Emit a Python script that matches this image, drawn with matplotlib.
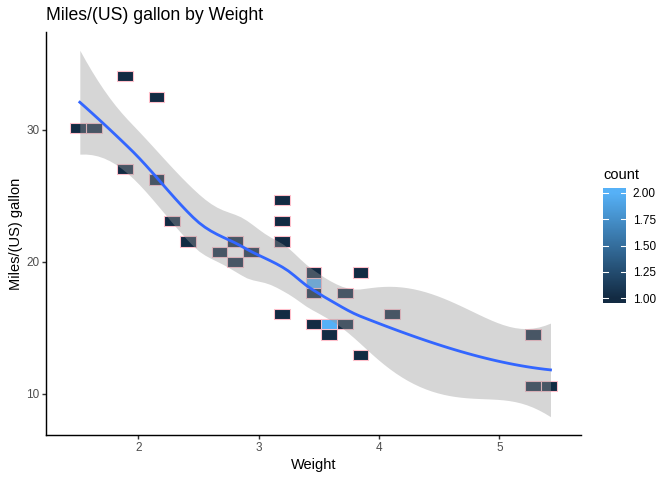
import math
import numpy as np
import matplotlib
matplotlib.use("Agg")
import matplotlib.pyplot as plt
from matplotlib.patches import Rectangle
from matplotlib.colors import LinearSegmentedColormap, Normalize

plt.rcParams['font.family'] = ['Liberation Sans', 'DejaVu Sans']

# mtcars: weight (1000 lbs) and miles per US gallon
wt = [2.620, 2.875, 2.320, 3.215, 3.440, 3.460, 3.570, 3.190, 3.150, 3.440,
      3.440, 4.070, 3.730, 3.780, 5.250, 5.424, 5.345, 2.200, 1.615, 1.835,
      2.465, 3.520, 3.435, 3.840, 3.845, 1.935, 2.140, 1.513, 3.170, 2.770,
      3.570, 2.780]
mpg = [21.0, 21.0, 22.8, 21.4, 18.7, 18.1, 14.3, 24.4, 22.8, 19.2,
       17.8, 16.4, 17.3, 15.2, 10.4, 10.4, 14.7, 32.4, 30.4, 33.9,
       21.5, 15.5, 15.2, 13.3, 19.2, 27.3, 26.0, 30.4, 15.8, 19.7,
       15.0, 21.4]
title = "Miles/(US) gallon by Weight"
xlabel = "Weight"
ylabel = "Miles/(US) gallon"
x_ticks = [2, 3, 4, 5]
y_ticks = [10, 20, 30]
legend_ticks = [1.00, 1.25, 1.50, 1.75, 2.00]
n_bins = 30
span = 0.75

x = np.array(wt, float)
y = np.array(mpg, float)


# ---- ggplot2-like bin2d breaks ----
def bin_breaks(v, bins):
    lo, hi = v.min(), v.max()
    bw = (hi - lo) / bins
    origin = math.floor(lo / bw) * bw
    br = np.arange(origin, hi + bw + bw * 1e-9, bw)
    if len(br) > 1 and br[-2] >= hi:
        br = br[:-1]
    return br, bw


xb, xw = bin_breaks(x, n_bins)
yb, yw = bin_breaks(y, n_bins)
xi = np.clip(np.digitize(x, xb, right=True) - 1, 0, len(xb) - 2)
yi = np.clip(np.digitize(y, yb, right=True) - 1, 0, len(yb) - 2)
counts = {}
for a, b in zip(xi, yi):
    counts[(a, b)] = counts.get((a, b), 0) + 1


# ---- loess (degree 2, tricube), kd-tree vertices + cubic Hermite ----
def local_rows(xd, x0, f):
    n = len(xd)
    q = int(math.floor(n * f))
    d = np.abs(xd - x0)
    h = np.sort(d)[q - 1]
    u = d / h
    w = np.where(u < 1, (1 - u ** 3) ** 3, 0.0)
    X = np.column_stack([np.ones(n), xd - x0, (xd - x0) ** 2])
    XtW = X.T * w
    sol = np.linalg.solve(XtW @ X, XtW)
    return sol[0], sol[1]


def kd_vertices(xd, f, cell=0.2):
    xs_sorted = np.sort(xd)
    n = len(xs_sorted)
    fc = int(math.floor(n * f * cell))
    lo, hi = xs_sorted[0], xs_sorted[-1]
    mu = 0.005 * (hi - lo)
    verts = [lo - mu, hi + mu]

    def split(l, u, vlo, vhi):
        if u - l + 1 <= fc:
            return
        m = (l + u) // 2
        # avoid ties between m and m+1
        off = 0
        while l <= m + off < u and xs_sorted[m + off] == xs_sorted[m + off + 1]:
            off = -off
            if off >= 0:
                off += 1
        if not (l <= m + off < u):
            return
        m = m + off
        t = xs_sorted[m]
        if t == vlo or t == vhi:
            return
        verts.append(t)
        split(l, m, vlo, t)
        split(m + 1, u, t, vhi)

    split(0, n - 1, verts[0], verts[1])
    return np.array(sorted(verts))


verts = kd_vertices(x, span)
R0, R1 = [], []
for v in verts:
    r0, r1 = local_rows(x, v, span)
    R0.append(r0)
    R1.append(r1)
R0, R1 = np.array(R0), np.array(R1)


def interp_rows(xq):
    rows = np.zeros((len(xq), len(x)))
    for i, xv in enumerate(xq):
        j = np.clip(np.searchsorted(verts, xv) - 1, 0, len(verts) - 2)
        hh = verts[j + 1] - verts[j]
        t = (xv - verts[j]) / hh
        h00 = 2 * t ** 3 - 3 * t ** 2 + 1
        h10 = t ** 3 - 2 * t ** 2 + t
        h01 = -2 * t ** 3 + 3 * t ** 2
        h11 = t ** 3 - t ** 2
        rows[i] = h00 * R0[j] + h10 * hh * R1[j] + h01 * R0[j + 1] + h11 * hh * R1[j + 1]
    return rows


def t_pdf(t, df):
    c = math.exp(math.lgamma((df + 1) / 2) - math.lgamma(df / 2)) / math.sqrt(df * math.pi)
    return c * (1 + t * t / df) ** (-(df + 1) / 2)


def qt(p, df):
    lo, hi = 0.0, 10.0
    for _ in range(60):
        mid = (lo + hi) / 2
        ts = np.linspace(0, mid, 2001)
        cdf = 0.5 + np.trapezoid(t_pdf(ts, df), ts)
        if cdf < p:
            lo = mid
        else:
            hi = mid
    return (lo + hi) / 2


n = len(x)
Ld = interp_rows(x)
res = y - Ld @ y
IL = np.eye(n) - Ld
M = IL.T @ IL
one_delta = np.trace(M)
two_delta = np.trace(M @ M)
s = math.sqrt(np.sum(res ** 2) / one_delta)
df = one_delta ** 2 / two_delta
tq = qt(0.975, df)

xs = np.linspace(x.min(), x.max(), 80)
Lq = interp_rows(xs)
ys = Lq @ y
se = s * np.sqrt(np.sum(Lq ** 2, axis=1))
lower = ys - tq * se
upper = ys + tq * se

# ---- figure ----
W, H = 672, 480
fig = plt.figure(figsize=(W / 96, H / 96), dpi=96)
pl, pr, pt, pb = 46, 581, 32, 435
ax = fig.add_axes([pl / W, 1 - pb / H, (pr - pl) / W, (pb - pt) / H])

cmap = LinearSegmentedColormap.from_list("gg", ["#132B43", "#56B1F7"])
norm = Normalize(vmin=1, vmax=2)

for (a, b), c in counts.items():
    ax.add_patch(Rectangle((xb[a], yb[b]), xw, yw, facecolor=cmap(norm(c)),
                           edgecolor="pink", linewidth=0.8, zorder=1))

ax.fill_between(xs, lower, upper, color="#999999", alpha=0.4, linewidth=0, zorder=2)
ax.plot(xs, ys, color="#3366FF", linewidth=2.1, zorder=3)

# limits with 5% expansion
tx = [xb[a] for (a, b) in counts] + [xb[a] + xw for (a, b) in counts]
ty = [yb[b] for (a, b) in counts] + [yb[b] + yw for (a, b) in counts]
x0, x1 = min(min(tx), xs.min()), max(max(tx), xs.max())
y0, y1 = min(min(ty), lower.min()), max(max(ty), upper.max())
ax.set_xlim(x0 - 0.05 * (x1 - x0), x1 + 0.05 * (x1 - x0))
ax.set_ylim(y0 - 0.05 * (y1 - y0), y1 + 0.05 * (y1 - y0))

for sp in ["top", "right"]:
    ax.spines[sp].set_visible(False)
for sp in ["left", "bottom"]:
    ax.spines[sp].set_linewidth(1.07)
    ax.spines[sp].set_color("black")
ax.set_xticks(x_ticks)
ax.set_yticks(y_ticks)
ax.set_xticklabels([str(v) for v in x_ticks])
ax.set_yticklabels([str(v) for v in y_ticks])
ax.tick_params(axis="both", length=3.7 * 72 / 96, width=1.07, color="#333333",
               labelcolor="#4D4D4D", labelsize=8.8, pad=2.2)

fig.text((pl + pr) / 2 / W, 1 - 465 / H, xlabel, fontsize=11, ha="center", va="center")
fig.text(16.5 / W, 1 - (pt + pb) / 2 / H, ylabel, fontsize=11, ha="center", va="center",
         rotation=90)
fig.text(pl / W, 1 - 15 / H, title, fontsize=13.2, ha="left", va="center")

# ---- colourbar legend ----
cb_l, cb_t, cb_w, cb_h = 603, 188, 23, 115
cax = fig.add_axes([cb_l / W, 1 - (cb_t + cb_h) / H, cb_w / W, cb_h / H])
pad = 0.045
grad = np.linspace(1 - pad, 2 + pad, 300).reshape(-1, 1)
cax.imshow(grad, cmap=cmap, norm=norm, aspect="auto", origin="lower",
           extent=[0, 1, 1 - pad, 2 + pad])
cax.set_xlim(0, 1)
cax.set_ylim(1 - pad, 2 + pad)
for v in legend_ticks:
    cax.plot([0, 0.2], [v, v], color="white", linewidth=0.8)
    cax.plot([0.8, 1], [v, v], color="white", linewidth=0.8)
cax.set_xticks([])
cax.yaxis.tick_right()
cax.set_yticks(legend_ticks)
cax.set_yticklabels(["%.2f" % v for v in legend_ticks])
cax.tick_params(axis="y", length=0, labelsize=8.8, pad=5, labelcolor="black")
for sp in cax.spines.values():
    sp.set_visible(False)
fig.text(cb_l / W, 1 - 175 / H, "count", fontsize=11, ha="left", va="center")

fig.savefig("out.png", dpi=96)
